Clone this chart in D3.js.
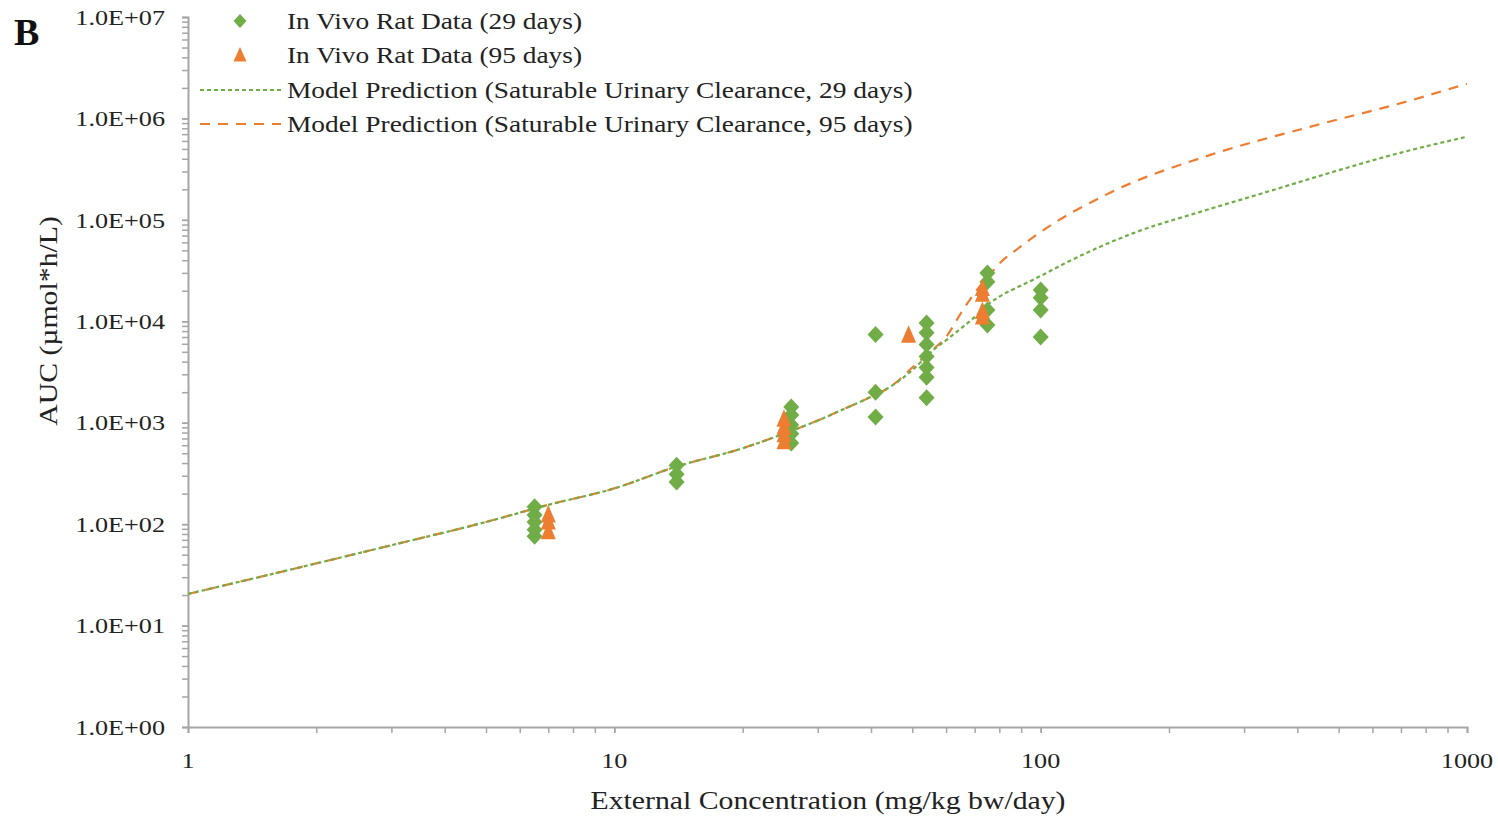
<!DOCTYPE html>
<html>
<head>
<meta charset="utf-8">
<script src="https://cdn.jsdelivr.net/npm/d3@7"></script>
<style>
  body { margin: 0; background: #fff; }
  svg { display: block; }
</style>
</head>
<body>
<svg id="chart"></svg>
<script>
'use strict'

// in vivo data, 29 day study (dose mg/kg bw/day, AUC)
const rat29Dose = [6.5, 6.5, 6.5, 6.5, 6.5, 14, 14, 14, 26, 26, 26, 26, 26, 41, 41, 41,
  54, 54, 54, 54, 54, 54, 54, 75, 75, 75, 75, 100, 100, 100, 100]
const rat29Auc = [148, 123, 105, 88, 76, 380, 310, 260, 1430, 1190, 950, 780, 630, 7400, 2000, 1140,
  9600, 7700, 5900, 4500, 3500, 2800, 1760, 30000, 24500, 12900, 9200, 20400, 17100, 12900, 7000]

// in vivo data, 95 day study
const rat95Dose = [7, 7, 7, 25, 25, 25, 25, 49, 73, 73, 73, 73]
const rat95Auc = [123, 105, 84, 1080, 900, 760, 650, 7300, 21000, 18500, 12500, 11000]

// model predictions
const model29Dose = [1, 2, 3, 5, 7, 10, 14, 20, 25, 30, 35, 40, 45, 50, 56, 60, 65, 70, 75, 80, 90, 100,
  115, 165, 237, 340, 485, 697, 1000]
const model29Auc = [20.5, 41, 62, 105, 155, 225, 370, 560, 780, 1050, 1400, 1800, 2350, 3300, 5200, 6500,
  8500, 11000, 14500, 17500, 22500, 28000, 38000, 74000, 120000, 189000, 297000, 458000, 660000]
const model95Dose = [1, 2, 3, 5, 7, 10, 14, 20, 25, 30, 35, 40, 45, 50, 55, 60, 65, 70, 75, 80, 90, 100,
  145, 250, 428, 736, 1000]
const model95Auc = [20.5, 41, 62, 105, 155, 225, 370, 560, 780, 1050, 1400, 1800, 2350, 3500, 5000, 7000,
  12000, 19000, 27000, 37000, 55000, 76000, 184000, 437000, 826000, 1500000, 2200000]

const legendLabels = [
  'In Vivo Rat Data (29 days)',
  'In Vivo Rat Data (95 days)',
  'Model Prediction (Saturable Urinary Clearance, 29 days)',
  'Model Prediction (Saturable Urinary Clearance, 95 days)'
]
const yTickValues = [1, 10, 100, 1e3, 1e4, 1e5, 1e6, 1e7]
const xTickValues = [1, 10, 100, 1000]

const width = 1498
const height = 817
const green = '#70AD47'
const orange = '#ED7D31'
const axisGrey = '#A6A6A6'
const font = '"Liberation Serif", "Times New Roman", serif'
// the source figure's lettering is a little wider than Times at the same height
const widen = 1.19

const svg = d3.select('#chart')
  .attr('width', width)
  .attr('height', height)
  .attr('font-family', font)

const x = d3.scaleLog().domain([1, 1000]).range([188, 1467])
const y = d3.scaleLog().domain([1, 1e7]).range([727, 17])

function stretch (sel) {
  sel.each(function () {
    const len = this.getComputedTextLength()
    d3.select(this)
      .attr('textLength', len * widen)
      .attr('lengthAdjust', 'spacingAndGlyphs')
  })
}

// minor ticks for both axes
const minor = (lo, hi) => {
  const out = []
  for (let p = lo; p < hi; p *= 10) {
    for (let k = 1; k <= 10; k++) out.push(p * k)
  }
  return out
}

const yAxis = svg.append('g')
  .attr('transform', `translate(${x(1)},0)`)
  .call(d3.axisLeft(y).tickValues(minor(1, 1e7)).tickSize(6).tickFormat(''))
yAxis.select('.domain').attr('stroke', axisGrey).attr('stroke-width', 2)
yAxis.selectAll('.tick line').attr('stroke', axisGrey).attr('stroke-width', 1.5)

const xAxis = svg.append('g')
  .attr('transform', `translate(0,${y(1)})`)
  .call(d3.axisBottom(x).tickValues(minor(1, 1000)).tickSize(6).tickFormat(''))
xAxis.select('.domain').attr('stroke', axisGrey).attr('stroke-width', 2)
xAxis.selectAll('.tick line').attr('stroke', axisGrey).attr('stroke-width', 1.5)

// tick labels
svg.append('g').selectAll('text')
  .data(yTickValues)
  .join('text')
  .attr('x', 165)
  .attr('y', d => y(d))
  .attr('dy', '0.35em')
  .attr('text-anchor', 'end')
  .attr('font-size', 22)
  .attr('fill', '#222')
  .text(d => '1.0E+' + String(Math.round(Math.log10(d))).padStart(2, '0'))
  .call(stretch)

svg.append('g').selectAll('text')
  .data(xTickValues)
  .join('text')
  .attr('x', d => x(d))
  .attr('y', 768)
  .attr('text-anchor', 'middle')
  .attr('font-size', 22)
  .attr('fill', '#222')
  .text(d => d)
  .call(stretch)

// axis titles
svg.append('text')
  .attr('x', 828)
  .attr('y', 809)
  .attr('text-anchor', 'middle')
  .attr('font-size', 25)
  .attr('fill', '#222')
  .text('External Concentration (mg/kg bw/day)')
  .call(stretch)

svg.append('text')
  .attr('transform', 'translate(57,321) rotate(-90)')
  .attr('text-anchor', 'middle')
  .attr('font-size', 25)
  .attr('fill', '#222')
  .text('AUC (\u00b5mol*h/L)')
  .call(stretch)

svg.append('text')
  .attr('x', 14)
  .attr('y', 45)
  .attr('font-size', 38)
  .attr('font-weight', 'bold')
  .attr('fill', '#111')
  .text('B')

// model lines
const line = d3.line()
  .x(d => x(d[0]))
  .y(d => y(d[1]))
  .curve(d3.curveMonotoneX)

svg.append('path')
  .datum(d3.zip(model95Dose, model95Auc))
  .attr('d', line)
  .attr('fill', 'none')
  .attr('stroke', orange)
  .attr('stroke-width', 2.2)
  .attr('stroke-dasharray', '10,8')

svg.append('path')
  .datum(d3.zip(model29Dose, model29Auc))
  .attr('d', line)
  .attr('fill', 'none')
  .attr('stroke', green)
  .attr('stroke-width', 2.2)
  .attr('stroke-dasharray', '4,3')

// markers
const diamond = 'M0,-8.5L8,0L0,8.5L-8,0Z'
const triangle = 'M0,-10L7.5,7.5L-7.5,7.5Z'

svg.append('g').selectAll('path')
  .data(d3.zip(rat29Dose, rat29Auc))
  .join('path')
  .attr('transform', d => `translate(${x(d[0])},${y(d[1])})`)
  .attr('d', diamond)
  .attr('fill', green)

svg.append('g').selectAll('path')
  .data(d3.zip(rat95Dose, rat95Auc))
  .join('path')
  .attr('transform', d => `translate(${x(d[0])},${y(d[1])})`)
  .attr('d', triangle)
  .attr('fill', orange)

// legend
const legendY = [21, 55, 90, 124]
const legend = svg.append('g')
legend.append('path').attr('transform', `translate(240,${legendY[0]})`).attr('d', 'M0,-7L6.5,0L0,7L-6.5,0Z').attr('fill', green)
legend.append('path').attr('transform', `translate(240,${legendY[1]})`).attr('d', 'M0,-8L6.5,6.5L-6.5,6.5Z').attr('fill', orange)
legend.append('line').attr('x1', 200).attr('x2', 281).attr('y1', legendY[2]).attr('y2', legendY[2])
  .attr('stroke', green).attr('stroke-width', 2.2).attr('stroke-dasharray', '4,3')
legend.append('line').attr('x1', 200).attr('x2', 281).attr('y1', legendY[3]).attr('y2', legendY[3])
  .attr('stroke', orange).attr('stroke-width', 2.2).attr('stroke-dasharray', '10,8')
legend.selectAll('text')
  .data(legendLabels)
  .join('text')
  .attr('x', 287)
  .attr('y', (d, i) => legendY[i])
  .attr('dy', '0.35em')
  .attr('font-size', 23)
  .attr('fill', '#222')
  .text(d => d)
  .call(stretch)
</script>
</body>
</html>
